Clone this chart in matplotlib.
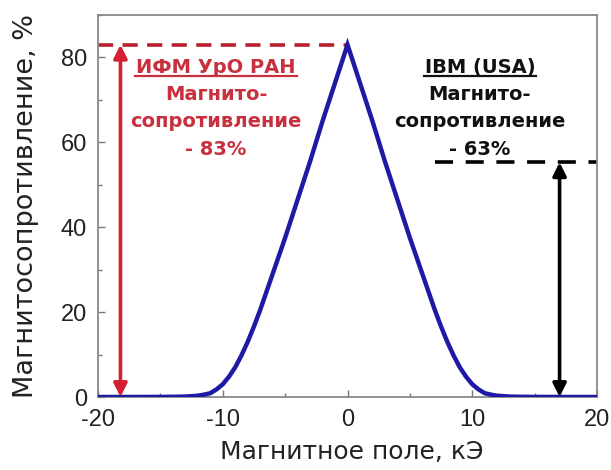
import matplotlib
matplotlib.use('Agg')
import matplotlib.pyplot as plt
from matplotlib.ticker import MultipleLocator

# ---- data ----
field = [-20, -15, -14, -13, -12, -11.5, -11, -10.5, -10, -9.5, -9, -8.5, -8, -7.5, -7,
         -6, -5, -4, -3, -2, -1, 0,
         1, 2, 3, 4, 5, 6,
         7, 7.5, 8, 8.5, 9, 9.5, 10, 10.5, 11, 11.5, 12, 13, 14, 15, 20]
mr = [0, 0.02, 0.05, 0.1, 0.3, 0.55, 0.9, 1.8, 3.0, 4.8, 7.0, 9.8, 13.0, 16.6, 20.5,
      29.0, 37.5, 46.5, 55.5, 65.0, 74.0, 83.0,
      74.0, 65.0, 55.5, 46.5, 37.5, 29.0,
      20.5, 16.6, 13.0, 9.8, 7.0, 4.8, 3.0, 1.8, 0.9, 0.55, 0.3, 0.1, 0.05, 0.02, 0]

xticks = [-20, -10, 0, 10, 20]
yticks = [0, 20, 40, 60, 80]

ifm_level = 83.0      # red dashed level
ibm_level = 55.3      # black dashed level
ifm_arrow_x = -18.2
ibm_arrow_x = 17.0
ibm_line_start = 7.0

ifm_lines = ["ИФМ УрО РАН", "Магнито-", "сопротивление", "- 83%"]
ibm_lines = ["IBM (USA)", "Магнито-", "сопротивление", "- 63%"]

xlabel = "Магнитное поле, кЭ"
ylabel = "Магнитосопротивление, %"

# ---- styling ----
plt.rcParams['font.family'] = ['Liberation Sans', 'DejaVu Sans']
plt.rcParams['axes.unicode_minus'] = False
W, H = 611, 470
fig = plt.figure(figsize=(W / 100, H / 100), dpi=100)
fig.patch.set_facecolor('white')
ax = fig.add_axes([98 / W, 1 - 397 / H, (597 - 98) / W, (397 - 15) / H])

blue = '#1f1aa6'
red_line = '#b8202e'
red_text = '#c8303e'

ax.plot(field, mr, color=blue, lw=3.2, solid_joinstyle='miter', zorder=3)
ax.set_xlim(-20, 20)
ax.set_ylim(0, 90)
ax.set_xticks(xticks)
ax.set_yticks(yticks)
ax.xaxis.set_minor_locator(MultipleLocator(5))
ax.yaxis.set_minor_locator(MultipleLocator(10))
ax.tick_params(which='both', direction='in', color='#777777', labelcolor='#222222',
               labelsize=17)
ax.tick_params(which='major', length=5, width=1)
ax.tick_params(which='minor', length=3, width=1)
ax.tick_params(axis='x', pad=9)
ax.tick_params(axis='y', pad=8)
for s in ax.spines.values():
    s.set_color('#888888')
    s.set_linewidth(1.3)

# dashed level lines
ax.plot([-20, 0], [ifm_level, ifm_level], color=red_line, lw=2.6,
        dashes=(4.2, 2.6), zorder=2)
ax.plot([ibm_line_start, 20], [ibm_level, ibm_level], color='black', lw=2.6,
        dashes=(5, 3.5), zorder=2)

# double arrows
ax.annotate('', xy=(ifm_arrow_x, ifm_level), xytext=(ifm_arrow_x, 0),
            arrowprops=dict(arrowstyle='<|-|>', color='#d42030', lw=2.6,
                            mutation_scale=20, shrinkA=0, shrinkB=0), zorder=4)
ax.annotate('', xy=(ibm_arrow_x, ibm_level), xytext=(ibm_arrow_x, 0),
            arrowprops=dict(arrowstyle='<|-|>', color='black', lw=2.6,
                            mutation_scale=20, shrinkA=0, shrinkB=0), zorder=4)

# annotation text blocks
line_y = [77.6, 71.3, 64.9, 58.4]
def block(xc, lines, color):
    texts = []
    for t, yy in zip(lines, line_y):
        texts.append(ax.text(xc, yy, t, ha='center', va='center', color=color,
                             fontsize=14, fontweight='bold', family=['DejaVu Sans']))
    return texts

red_texts = block(-10.54, ifm_lines, red_text)
blk_texts = block(10.62, ibm_lines, '#111111')

# axis labels
fig.text(352 / W, 1 - 452 / H, xlabel, ha='center', va='center', fontsize=18,
         color='#222222', family=['DejaVu Sans'])
fig.text(26 / W, 1 - 206 / H, ylabel, ha='center', va='center', fontsize=19.5,
         rotation=90, color='#222222', family=['DejaVu Sans'])

# underline the first line of each block
fig.canvas.draw()
inv = ax.transData.inverted()
for t, col in ((red_texts[0], red_text), (blk_texts[0], '#111111')):
    bb = t.get_window_extent()
    (x0, y0) = inv.transform((bb.x0 - 1, bb.y0 + 1))
    (x1, _) = inv.transform((bb.x1 + 1, bb.y0 + 1))
    ax.plot([x0, x1], [y0, y0], color=col, lw=1.6, zorder=3)

fig.savefig('out.png', dpi=100, facecolor='white')
